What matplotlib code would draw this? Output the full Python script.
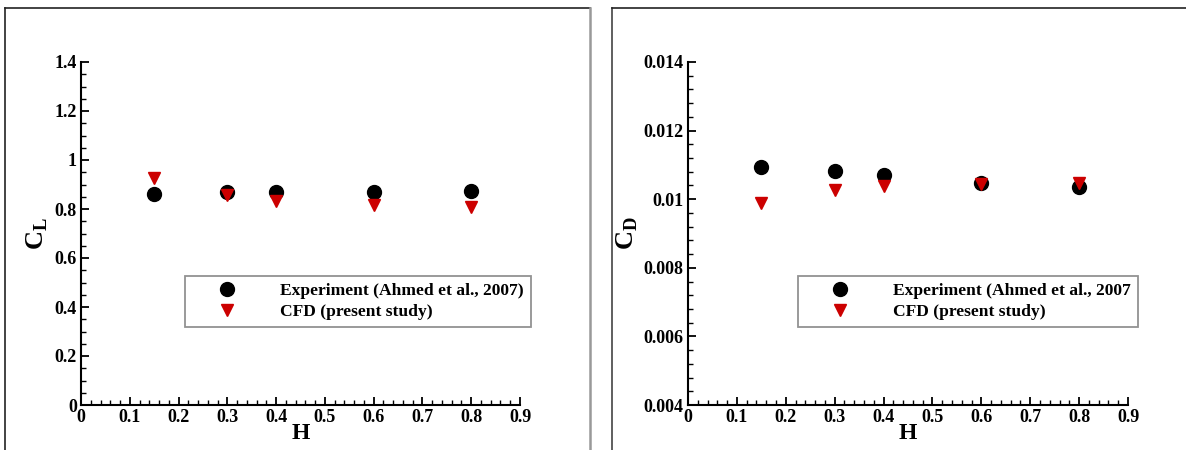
import matplotlib
matplotlib.use("Agg")
import matplotlib.pyplot as plt
from matplotlib.lines import Line2D
from matplotlib.ticker import MultipleLocator, FuncFormatter

plt.rcParams['font.family'] = ['Liberation Serif', 'DejaVu Serif']
plt.rcParams['font.weight'] = 'bold'
plt.rcParams['mathtext.fontset'] = 'custom'
plt.rcParams['mathtext.rm'] = 'Liberation Serif:bold'
plt.rcParams['mathtext.bf'] = 'Liberation Serif:bold'

# Данные
H = [0.15, 0.3, 0.4, 0.6, 0.8]
CL_exp = [0.863, 0.871, 0.870, 0.868, 0.872]
CL_cfd = [0.927, 0.857, 0.831, 0.816, 0.808]
CD_exp = [0.01095, 0.01083, 0.01070, 0.01046, 0.01037]
CD_cfd = [0.00988, 0.01027, 0.01038, 0.01045, 0.01046]

LABEL_EXP = ["Experiment (Ahmed et al., 2007)", "Experiment (Ahmed et al., 2007"]
LABEL_CFD = "CFD (present study)"

fig = plt.figure(figsize=(11.86, 4.5), dpi=100)
W, Hpx = 1186, 450


def frame_line(x, y, color, lw):
    fig.lines.append(Line2D([v / W for v in x], [1 - v / Hpx for v in y], transform=fig.transFigure,
                            color=color, linewidth=lw))


# внешние рамки панелей
frame_line([5, 5], [8, 460], '#222222', 1.2)
frame_line([5, 590], [8, 8], '#222222', 1.2)
frame_line([590, 590], [8, 460], '#999999', 1.8)
frame_line([612, 612], [8, 460], '#444444', 1.2)
frame_line([612, 1190], [8, 8], '#222222', 1.2)


def fmt(v, pos):
    return '%g' % round(v, 6)


def setup(ax, ylim, ymajor, yminor, ylabel):
    ax.set_xlim(0, 0.9)
    ax.set_ylim(*ylim)
    ax.spines['top'].set_visible(False)
    ax.spines['right'].set_visible(False)
    ax.spines['left'].set_linewidth(1.5)
    ax.spines['bottom'].set_linewidth(1.5)
    ax.xaxis.set_major_locator(MultipleLocator(0.1))
    ax.xaxis.set_minor_locator(MultipleLocator(0.02))
    ax.yaxis.set_major_locator(MultipleLocator(ymajor))
    ax.yaxis.set_minor_locator(MultipleLocator(yminor))
    ax.xaxis.set_major_formatter(FuncFormatter(fmt))
    ax.yaxis.set_major_formatter(FuncFormatter(fmt))
    ax.tick_params(which='major', direction='in', length=6, width=1.3, labelsize=13, pad=3)
    ax.tick_params(which='minor', direction='in', length=3.5, width=1.0)
    for lab in ax.get_xticklabels() + ax.get_yticklabels():
        lab.set_fontweight('bold')
    ax.set_xlabel('H', fontsize=17, fontweight='bold', labelpad=-2)
    ax.set_ylabel(ylabel, fontsize=19, labelpad=3)


def add_legend(ax, x0):
    leg = ax.legend(loc='upper left', bbox_to_anchor=(x0, 0.376), borderaxespad=0,
                    fontsize=12.6, frameon=True, fancybox=False, edgecolor='#777777',
                    borderpad=0.4, handlelength=4.0, handletextpad=1.05, labelspacing=0.25)
    leg.get_frame().set_linewidth(1.3)
    for t in leg.get_texts():
        t.set_fontweight('bold')


ax1 = fig.add_axes([81 / W, 45 / Hpx, 439 / W, 343 / Hpx])
ax1.plot(H, CL_exp, 'o', color='black', markersize=10, label=LABEL_EXP[0], clip_on=False)
ax1.plot(H, CL_cfd, 'v', color='#cc0000', markersize=9, label=LABEL_CFD, clip_on=False)
setup(ax1, (0, 1.4), 0.2, 0.05, r'$\mathbf{C}_\mathbf{L}$')
add_legend(ax1, 0.237)

ax2 = fig.add_axes([688 / W, 45 / Hpx, 440 / W, 343 / Hpx])
ax2.plot(H, CD_exp, 'o', color='black', markersize=10, label=LABEL_EXP[1], clip_on=False)
ax2.plot(H, CD_cfd, 'v', color='#cc0000', markersize=9, label=LABEL_CFD, clip_on=False)
setup(ax2, (0.004, 0.014), 0.002, 0.0004, r'$\mathbf{C}_\mathbf{D}$')
add_legend(ax2, 0.25)

fig.savefig('out.png', dpi=100)
